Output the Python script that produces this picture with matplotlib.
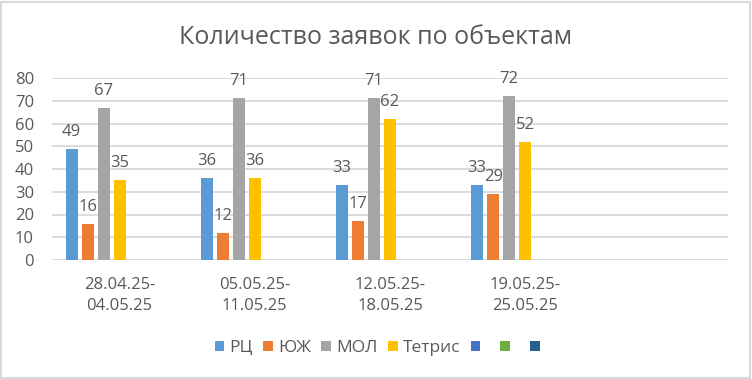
import matplotlib
matplotlib.use("Agg")
import matplotlib.pyplot as plt
from matplotlib.patches import Rectangle, Patch
import numpy as np

plt.rcParams['font.family'] = ['Open Sans', 'DejaVu Sans']

title = "Количество заявок по объектам"
categories = ["28.04.25-\n04.05.25", "05.05.25-\n11.05.25", "12.05.25-\n18.05.25", "19.05.25-\n25.05.25", ""]
series_names = ["РЦ", "ЮЖ", "МОЛ", "Тетрис", " ", " ", " "]
series_colors = ["#5B9BD5", "#ED7D31", "#A5A5A5", "#FFC000", "#4472C4", "#70AD47", "#255E91"]
rc = [49, 36, 33, 33, None]
yuzh = [16, 12, 17, 29, None]
mol = [67, 71, 71, 72, None]
tetris = [35, 36, 62, 52, None]
empty = [None, None, None, None, None]
series_values = [rc, yuzh, mol, tetris, empty, empty, empty]

TXT = "#595959"
GRID = "#D9D9D9"

W, H = 752, 379
fig = plt.figure(figsize=(W / 100, H / 100), dpi=100)
ax = fig.add_axes([52 / W, 1 - 260 / H, (728 - 52) / W, (260 - 78) / H])

x = np.arange(len(categories))
n = len(series_names)
step = 16 / 135
bw = 12 / 135
for i, (name, col, vals) in enumerate(zip(series_names, series_colors, series_values)):
    off = (i - (n - 1) / 2) * step
    for xi, v in zip(x, vals):
        if v is None:
            continue
        ax.bar(xi + off, v, width=bw, color=col, zorder=3)
        ax.annotate(str(v), (xi + off, v), xytext=(0, 13), textcoords='offset pixels',
                    ha='center', va='baseline', fontsize=12, color=TXT, zorder=4)

ax.set_xlim(-0.5, len(categories) - 0.5)
ax.set_ylim(0, 80)
ax.set_yticks(range(0, 81, 10))
ax.yaxis.grid(True, color=GRID, linewidth=1.3, zorder=0)
ax.set_axisbelow(True)
for s in ax.spines.values():
    s.set_visible(False)
ax.set_xticks(x)
ax.set_xticklabels(categories, linespacing=1.45)
ax.tick_params(axis='x', length=0, pad=12, labelsize=12, labelcolor=TXT)
ax.tick_params(axis='y', length=0, pad=13, labelsize=12, labelcolor=TXT)

fig.text(0.5, 1 - 37 / H, title, ha='center', va='center', fontsize=18, color=TXT)

handles = [Patch(facecolor=c, edgecolor='none') for c in series_colors]
leg = fig.legend(handles, series_names, loc='center', bbox_to_anchor=(382 / W, 1 - 348 / H),
                 ncol=7, frameon=False, fontsize=12.5, handlelength=0.55, handleheight=0.55,
                 handletextpad=0.3, columnspacing=0.6, labelcolor=TXT)

fig.patches.append(Rectangle((0.5 / W, 1.5 / H), (W - 3) / W, (H - 3.5) / H, transform=fig.transFigure,
                             fill=False, edgecolor=GRID, linewidth=1.5))

fig.savefig("out.png", dpi=100)
